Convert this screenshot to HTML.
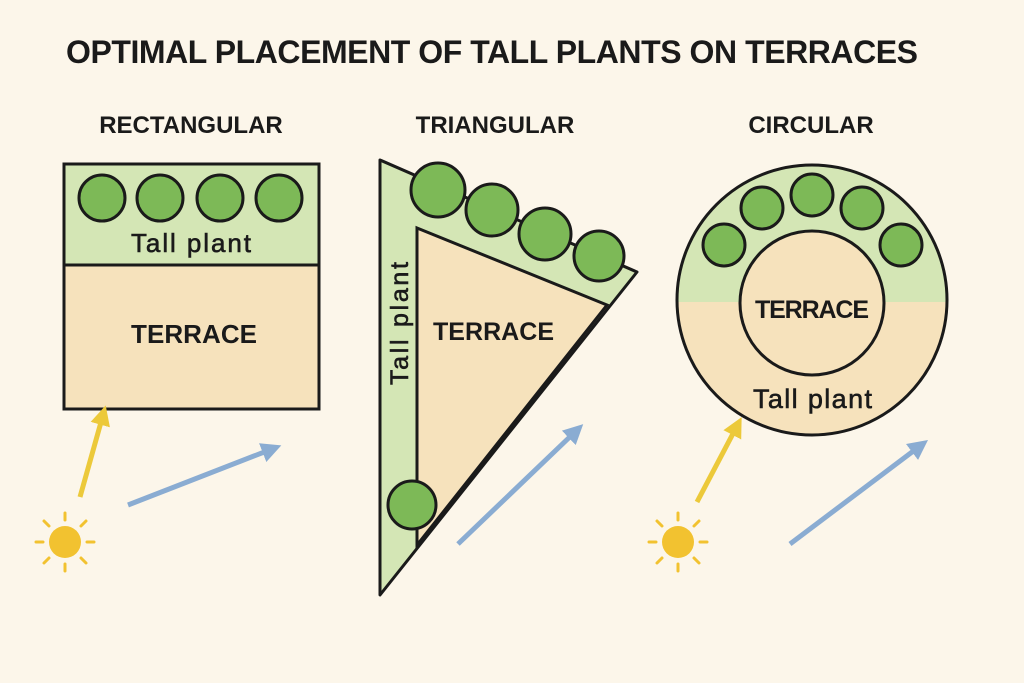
<!DOCTYPE html>
<html><head><style>
body{margin:0;background:#fcf6ea;}
svg{display:block}
text{font-family:"Liberation Sans",sans-serif;font-weight:bold;fill:#1a1a1a}
.tp{font-weight:normal;stroke:#1a1a1a;stroke-width:0.6}
</style></head><body>
<svg width="1024" height="683" viewBox="0 0 1024 683">
<defs>
<marker id="ay" markerWidth="4" markerHeight="4" refX="2" refY="2" orient="auto"><path d="M0,0 L4,2 L0,4z" fill="#ecc93a"/></marker>
<marker id="ab" markerWidth="4" markerHeight="4" refX="2" refY="2" orient="auto"><path d="M0,0 L4,2 L0,4z" fill="#8aacd2"/></marker>
<g id="sun"><circle r="16" fill="#f2c230"/>
<g stroke="#f2c230" stroke-width="3" stroke-linecap="round">
<line x1="0" y1="-22" x2="0" y2="-29"/><line x1="0" y1="22" x2="0" y2="29"/><line x1="-22" y1="0" x2="-29" y2="0"/><line x1="22" y1="0" x2="29" y2="0"/>
<line x1="16" y1="16" x2="21" y2="21"/><line x1="-16" y1="16" x2="-21" y2="21"/><line x1="16" y1="-16" x2="21" y2="-21"/><line x1="-16" y1="-16" x2="-21" y2="-21"/></g></g>
</defs>
<text x="66" y="63" font-size="32" textLength="852">OPTIMAL PLACEMENT OF TALL PLANTS ON TERRACES</text>
<text x="191" y="133" font-size="24" text-anchor="middle">RECTANGULAR</text>
<text x="495" y="133" font-size="24" text-anchor="middle">TRIANGULAR</text>
<text x="811" y="133" font-size="24" text-anchor="middle">CIRCULAR</text>

<!-- rect -->
<rect x="64" y="164" width="255" height="101" fill="#d4e6b5"/>
<rect x="64" y="265" width="255" height="144" fill="#f6e2bc"/>
<rect x="64" y="164" width="255" height="245" fill="none" stroke="#1a1a1a" stroke-width="3"/>
<line x1="64" y1="265" x2="319" y2="265" stroke="#1a1a1a" stroke-width="3"/>
<g fill="#7db957" stroke="#1a1a1a" stroke-width="3">
<circle cx="102" cy="198" r="23"/><circle cx="160" cy="198" r="23"/><circle cx="220" cy="198" r="23"/><circle cx="279" cy="198" r="23"/></g>
<text x="131" y="252" font-size="26" class="tp" textLength="120">Tall plant</text>
<text x="131" y="343" font-size="26" textLength="126">TERRACE</text>
<line x1="80" y1="497" x2="103" y2="415" stroke="#ecc93a" stroke-width="5" marker-end="url(#ay)"/>
<line x1="128" y1="505" x2="272" y2="449" stroke="#8aacd2" stroke-width="5" marker-end="url(#ab)"/>
<use href="#sun" x="65" y="542"/>

<!-- triangle -->
<polygon points="380,160 637,272 380,595" fill="#d4e6b5" stroke="#1a1a1a" stroke-width="3" stroke-linejoin="round"/>
<polygon points="417,228 607,305 417,545" fill="#f6e2bc" stroke="#1a1a1a" stroke-width="3"/>
<g fill="#7db957" stroke="#1a1a1a" stroke-width="3">
<circle cx="438" cy="190" r="27"/><circle cx="492" cy="210" r="26"/><circle cx="545" cy="234" r="26"/><circle cx="599" cy="256" r="25"/><circle cx="412" cy="505" r="24"/></g>
<text transform="translate(408,385) rotate(-90)" font-size="25" class="tp" textLength="123">Tall plant</text>
<text x="433" y="340" font-size="25" textLength="121">TERRACE</text>
<line x1="458" y1="544" x2="576" y2="431" stroke="#8aacd2" stroke-width="5" marker-end="url(#ab)"/>

<!-- circle -->
<clipPath id="cc"><circle cx="812" cy="300" r="135"/></clipPath>
<g clip-path="url(#cc)"><rect x="670" y="160" width="290" height="142" fill="#d4e6b5"/><rect x="670" y="302" width="290" height="140" fill="#f6e2bc"/></g>
<circle cx="812" cy="300" r="135" fill="none" stroke="#1a1a1a" stroke-width="3"/>
<circle cx="812" cy="303" r="72" fill="#f6e2bc" stroke="#1a1a1a" stroke-width="3"/>
<g fill="#7db957" stroke="#1a1a1a" stroke-width="3">
<circle cx="724" cy="245" r="21"/><circle cx="762" cy="208" r="21"/><circle cx="812" cy="195" r="21"/><circle cx="862" cy="208" r="21"/><circle cx="901" cy="245" r="21"/></g>
<text x="755" y="318" font-size="25" textLength="114">TERRACE</text>
<text x="753" y="408" font-size="27" class="tp" textLength="119">Tall plant</text>
<line x1="697" y1="502" x2="737" y2="426" stroke="#ecc93a" stroke-width="5" marker-end="url(#ay)"/>
<line x1="790" y1="544" x2="920" y2="446" stroke="#8aacd2" stroke-width="5" marker-end="url(#ab)"/>
<use href="#sun" x="678" y="542"/>
</svg>
</body></html>
